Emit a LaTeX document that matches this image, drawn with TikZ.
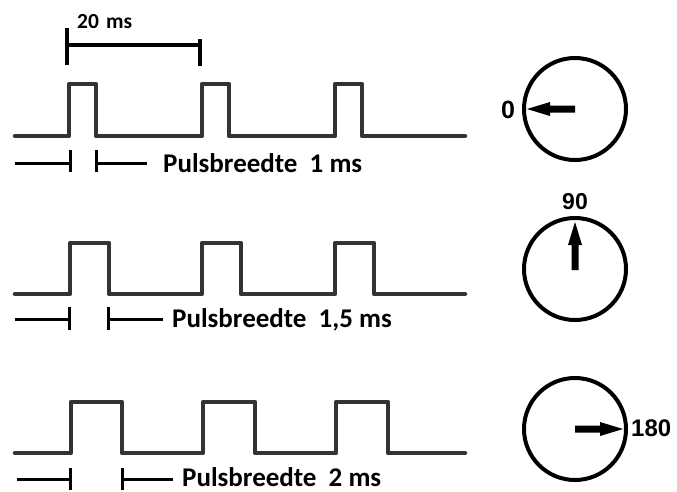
\documentclass[tikz,border=0pt]{standalone}
\usepackage{fontspec}
\setmainfont{Carlito}
\newfontfamily\dialfont{Liberation Sans}
\begin{document}
\begin{tikzpicture}[x=1pt,y=-1pt,
  wave/.style={line width=4.5pt, draw=black!80, line join=round, line cap=round},
  measure/.style={line width=3pt, draw=black},
  label/.style={font=\bfseries\fontsize{27}{27}\selectfont, inner sep=0pt, anchor=base west},
  dial/.style={circle, draw=black, line width=4pt, minimum size=102pt, inner sep=0pt},
  dialtext/.style={font=\dialfont\bfseries\fontsize{23}{23}\selectfont, inner sep=0pt},
  pointer/.style={fill=black, draw=none}]
\useasboundingbox (0,0) rectangle (677,491);

% ---- 20 ms period marker ----
\draw[measure, line width=3.5pt] (67,28) -- (67,65);
\draw[measure, line width=3.5pt] (67,45) -- (200,45);
\draw[measure, line width=3.5pt] (200,39) -- (200,66);
\node[font=\bfseries\fontsize{21.5}{21.5}\selectfont, inner sep=0pt, anchor=base west] (period) at (77,28) {20\,\,ms};

% ---- pulse trains ----
\draw[wave] (15,136) -- (69,136) -- (69,84) -- (96,84) -- (96,136)
  -- (202,136) -- (202,84) -- (229,84) -- (229,136)
  -- (335,136) -- (335,84) -- (362,84) -- (362,136) -- (465,136);
\draw[wave] (15,294) -- (70,294) -- (70,243) -- (109,243) -- (109,294)
  -- (202,294) -- (202,243) -- (241,243) -- (241,294)
  -- (335,294) -- (335,243) -- (374,243) -- (374,294) -- (465,294);
\draw[wave] (15,453) -- (71,453) -- (71,402) -- (122,402) -- (122,453)
  -- (203,453) -- (203,402) -- (255,402) -- (255,453)
  -- (336,453) -- (336,402) -- (388,402) -- (388,453) -- (465,453);

% ---- pulse width markers ----
\draw[measure] (15,163) -- (70,163);
\draw[measure] (70,150) -- (70,172);
\draw[measure] (96,150) -- (96,172);
\draw[measure] (96,163) -- (147,163);
\node[label] (pw1) at (163,172) {Pulsbreedte\ \ 1 ms};

\draw[measure] (15,319) -- (69,319);
\draw[measure] (69,307) -- (69,330);
\draw[measure] (108,307) -- (108,330);
\draw[measure] (108,319) -- (163,319);
\node[label] (pw2) at (172,327) {Pulsbreedte\ \ 1,5 ms};

\draw[measure] (17,479) -- (70,479);
\draw[measure] (70,468) -- (70,490);
\draw[measure] (122,468) -- (122,490);
\draw[measure] (122,479) -- (173,479);
\node[label] (pw3) at (182,486) {Pulsbreedte\ \ 2 ms};

% ---- servo dials ----
\node[dial] (dialA) at (575,109) {};
\node[dial] (dialB) at (575,269) {};
\node[dial] (dialC) at (575,429) {};

% pointer 0 degrees (left)
\fill[pointer] (575,105.5) -- (550,105.5) -- (550,102) -- (527,109)
  -- (550,116) -- (550,112.5) -- (575,112.5) -- cycle;
% pointer 90 degrees (up)
\fill[pointer] (571.5,270) -- (571.5,245) -- (568,245) -- (575,222)
  -- (582,245) -- (578.5,245) -- (578.5,270) -- cycle;
% pointer 180 degrees (right)
\fill[pointer] (575,425.5) -- (600,425.5) -- (600,422) -- (623,429)
  -- (600,436) -- (600,432.5) -- (575,432.5) -- cycle;

\node[dialtext, font=\dialfont\bfseries\fontsize{25}{25}\selectfont] (degA) at (508,110) {0};
\node[dialtext] (degB) at (575,202) {90};
\node[dialtext, anchor=west, font=\dialfont\bfseries\fontsize{24}{24}\selectfont] (degC) at (631,428) {180};
\end{tikzpicture}
\end{document}
